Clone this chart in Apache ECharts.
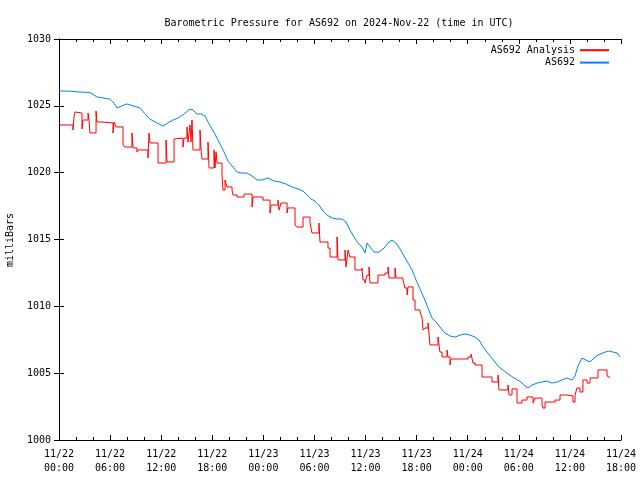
<!DOCTYPE html>
<html>
<head>
<meta charset="utf-8">
<script src="https://cdn.jsdelivr.net/npm/echarts@6/dist/echarts.min.js"></script>
<style>html,body{margin:0;padding:0;background:#fff}#c{width:640px;height:480px}</style>
</head>
<body>
<div id="c"></div>
<script>
// x values are hours since 2024-11-22 00:00 UTC
const xTickLabels = ['11/22\n00:00','11/22\n06:00','11/22\n12:00','11/22\n18:00','11/23\n00:00','11/23\n06:00','11/23\n12:00','11/23\n18:00','11/24\n00:00','11/24\n06:00','11/24\n12:00','11/24\n18:00'];
const seriesNames = ['AS692 Analysis', 'AS692'];

const redHours = [0,1.64,1.76,1.88,2.11,2.70,2.82,3.41,3.52,3.64,4.35,4.46,4.93,6.34,6.46,6.69,7.52,7.75,8.57,8.69,9.16,9.28,10.45,10.57,10.69,11.63,12.57,12.68,13.51,13.74,14.56,14.68,15.03,15.15,15.38,15.50,15.62,15.74,16.56,16.68,16.79,17.50,17.62,18.20,18.32,18.44,18.56,19.14,19.26,19.50,19.73,20.32,20.43,20.90,21.73,22.67,22.78,23.96,24.78,24.90,25.72,25.84,26.07,26.78,26.89,27.72,27.95,28.66,29.48,29.71,30.53,30.65,31.59,31.83,32.65,32.77,33.59,33.71,33.94,34.17,34.76,35.58,35.70,35.94,36.17,36.41,36.52,37.46,38.29,38.64,38.75,39.46,39.58,40.40,40.63,40.87,40.99,41.57,41.81,42.40,42.63,42.75,42.98,43.34,43.57,44.51,44.63,44.74,44.98,45.57,45.68,45.92,46.04,48.03,48.39,48.62,48.86,49.68,50.85,51.56,51.67,52.73,52.85,53.20,53.79,54.37,54.96,55.67,55.90,56.72,56.84,57.08,58.25,58.84,59.66,60.36,60.60,60.83,61.18,61.53,62.01,62.36,63.30,64.36,64.48,64.71];
const redValues = [1023.57,1023.19,1024.16,1024.54,1024.46,1023.27,1023.94,1024.46,1023.94,1022.97,1024.61,1023.79,1023.72,1022.97,1023.79,1023.42,1022.07,1021.92,1022.97,1021.85,1021.55,1021.70,1021.10,1022.97,1022.22,1020.72,1022.44,1020.80,1022.52,1022.59,1021.92,1022.59,1023.42,1022.29,1023.57,1022.29,1023.94,1021.70,1023.19,1021.70,1021.02,1022.29,1020.35,1021.70,1020.35,1021.55,1020.72,1019.83,1018.70,1019.45,1018.93,1018.70,1018.33,1018.18,1018.40,1017.43,1018.18,1017.95,1016.98,1017.58,1017.95,1017.21,1017.73,1016.98,1017.36,1016.08,1015.93,1016.68,1016.23,1015.49,1016.23,1014.81,1014.36,1013.69,1015.19,1013.47,1014.21,1012.94,1014.21,1013.69,1012.72,1012.87,1011.97,1011.75,1012.34,1012.94,1011.75,1012.34,1012.49,1012.94,1012.12,1012.87,1012.12,1011.97,1011.37,1010.85,1011.45,1010.47,1009.73,1009.58,1009.13,1008.23,1008.38,1008.75,1007.11,1007.71,1007.11,1006.58,1006.21,1006.73,1006.21,1005.61,1006.06,1006.21,1006.43,1005.76,1005.61,1004.71,1004.34,1004.86,1003.74,1004.11,1003.37,1003.82,1002.77,1002.99,1003.22,1002.77,1003.14,1002.62,1002.39,1002.84,1002.99,1003.37,1003.29,1002.84,1003.37,1003.89,1003.59,1004.49,1004.26,1004.64,1005.24,1004.86,1004.71,1004.71];

const blueHours = [0,1.29,2.47,3.64,4.46,5.17,5.99,6.46,6.81,7.40,7.99,8.69,9.51,10.10,10.69,11.51,12.21,12.80,13.39,13.98,14.68,15.38,15.74,16.21,16.68,17.15,17.50,17.97,18.44,18.91,19.38,19.85,20.32,20.90,21.49,22.08,22.67,23.25,23.84,24.54,25.25,25.95,26.66,27.36,28.07,28.66,29.12,29.59,30.06,30.53,31.00,31.47,32.06,32.65,33.24,33.71,34.17,34.64,35.11,35.58,35.94,36.17,36.52,36.99,37.58,38.17,38.75,39.11,39.58,40.05,40.52,40.99,41.46,41.93,42.40,42.87,43.34,43.80,44.27,44.74,45.33,45.92,46.51,47.10,47.68,48.27,48.86,49.33,49.80,50.26,50.73,51.20,51.67,52.14,52.61,53.08,53.67,54.26,54.73,55.08,55.55,56.14,56.72,57.31,57.90,58.49,59.07,59.66,60.25,60.60,60.95,61.42,61.89,62.36,62.83,63.30,63.89,64.48,65.06,65.53,65.89];
const blueValues = [1026.11,1026.10,1026.03,1026.00,1025.66,1025.59,1025.50,1025.20,1024.84,1025.00,1025.14,1025.00,1024.84,1024.40,1024.00,1023.72,1023.49,1023.72,1023.94,1024.09,1024.39,1024.76,1024.69,1024.39,1024.39,1024.24,1023.79,1023.27,1022.74,1022.14,1021.55,1020.87,1020.50,1020.05,1019.97,1019.97,1019.75,1019.45,1019.45,1019.60,1019.38,1019.30,1019.15,1018.93,1018.78,1018.63,1018.33,1018.03,1017.88,1017.58,1017.13,1016.83,1016.61,1016.53,1016.53,1016.31,1015.71,1015.19,1014.74,1014.44,1013.99,1014.74,1014.44,1014.06,1014.06,1014.36,1014.81,1014.96,1014.74,1014.29,1013.77,1013.24,1012.72,1011.97,1011.30,1010.62,1009.88,1009.13,1008.83,1008.45,1008.00,1007.78,1007.70,1007.85,1007.93,1007.85,1007.70,1007.48,1006.96,1006.58,1006.21,1005.84,1005.46,1005.24,1005.01,1004.79,1004.56,1004.34,1004.04,1003.89,1004.11,1004.26,1004.34,1004.41,1004.26,1004.34,1004.49,1004.64,1004.49,1004.79,1005.54,1006.13,1005.98,1005.84,1006.13,1006.36,1006.51,1006.66,1006.58,1006.51,1006.21];

const FONT = 'DejaVu Sans Mono';
const chart = echarts.init(document.getElementById('c'), null, {renderer: 'canvas'});

const xCommon = {
  type: 'value', min: 0, max: 66, interval: 6,
  axisLine: {show: true, lineStyle: {color: '#000', width: 1}},
  axisTick: {show: true, inside: true, length: 5, lineStyle: {color: '#000'}},
  minorTick: {show: true, splitNumber: 3, length: 3, lineStyle: {color: '#000'}},
  splitLine: {show: false}
};
const yCommon = {
  type: 'value', min: 1000, max: 1030, interval: 5,
  axisLine: {show: true, lineStyle: {color: '#000', width: 1}},
  axisTick: {show: true, inside: true, length: 5, lineStyle: {color: '#000'}},
  splitLine: {show: false}
};

chart.setOption({
  backgroundColor: '#fff',
  animation: false,
  title: {
    text: 'Barometric Pressure for AS692 on 2024-Nov-22 (time in UTC)',
    left: 334, top: 13, textAlign: 'center',
    textStyle: {fontFamily: FONT, fontSize: 10, fontWeight: 'normal', color: '#000'}
  },
  legend: {
    orient: 'vertical', align: 'right', right: 30, top: 45, padding: 0,
    itemWidth: 29, itemHeight: 13, itemGap: 2,
    itemStyle: {opacity: 0},
    textStyle: {fontFamily: FONT, fontSize: 10, color: '#000'},
    data: seriesNames
  },
  graphic: [{
    type: 'text', x: 10, y: 240, rotation: Math.PI / 2,
    style: {text: 'milliBars', fontFamily: FONT, fontSize: 10, fill: '#000', align: 'center', verticalAlign: 'middle'}
  }],
  grid: {left: 59, right: 19, top: 39, bottom: 40, containLabel: false},
  xAxis: [
    Object.assign({}, xCommon, {
      position: 'bottom',
      axisLabel: {
        margin: 7, fontFamily: FONT, fontSize: 10, lineHeight: 14, color: '#000',
        formatter: function (v) { return xTickLabels[Math.round(v / 6)]; }
      }
    }),
    Object.assign({}, xCommon, {position: 'top', axisLabel: {show: false}})
  ],
  yAxis: [
    Object.assign({}, yCommon, {
      position: 'left',
      axisLabel: {margin: 8, fontFamily: FONT, fontSize: 10, color: '#000',
        formatter: function (v) { return String(v); }}
    }),
    Object.assign({}, yCommon, {position: 'right', axisLabel: {show: false}})
  ],
  series: [
    {
      name: seriesNames[0], type: 'line', step: 'end', symbol: 'none',
      color: '#ff0000', lineStyle: {width: 1, color: '#ff0000'},
      data: redHours.map(function (h, i) { return [h, redValues[i]]; })
    },
    {
      name: seriesNames[1], type: 'line', symbol: 'none',
      color: '#0080ff', lineStyle: {width: 1, color: '#0080ff'},
      data: blueHours.map(function (h, i) { return [h, blueValues[i]]; })
    }
  ]
});
</script>
</body>
</html>
